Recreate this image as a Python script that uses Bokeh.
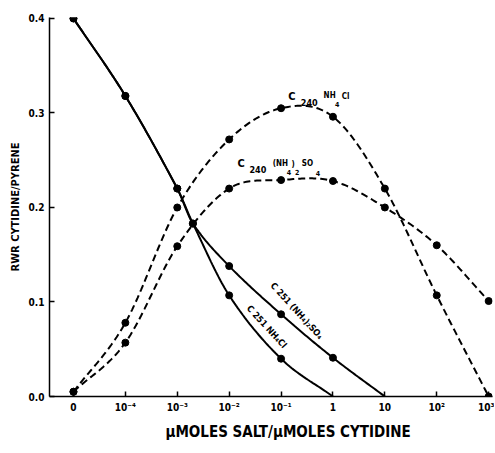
import numpy as np
from bokeh.plotting import figure
from bokeh.models import Range1d, FixedTicker, Title
from bokeh.core.properties import value
from bokeh.embed import file_html
from bokeh.resources import INLINE

# ---- data (µmoles salt / µmoles cytidine  vs  RWR cytidine/pyrene) ----
tick_values = [0, 1e-4, 1e-3, 1e-2, 1e-1, 1, 10, 100, 1000]
tick_labels = ["0", "10⁻⁴", "10⁻³", "10⁻²", "10⁻¹", "1", "10", "10²", "10³"]
y_ticks = [0.0, 0.1, 0.2, 0.3, 0.4]
y_tick_labels = ["0.0", "0.1", "0.2", "0.3", "0.4"]

c251_nh4cl_x = [0, 1e-4, 1e-3, 2e-3, 1e-2, 1e-1, 1]
c251_nh4cl_y = [0.400, 0.318, 0.220, 0.183, 0.107, 0.040, 0.000]

c251_so4_x = [0, 1e-4, 1e-3, 2e-3, 1e-2, 1e-1, 1, 10]
c251_so4_y = [0.400, 0.318, 0.220, 0.183, 0.138, 0.087, 0.041, 0.000]

c240_nh4cl_x = [0, 1e-4, 1e-3, 1e-2, 1e-1, 1, 10, 100, 1000]
c240_nh4cl_y = [0.005, 0.078, 0.200, 0.272, 0.305, 0.296, 0.220, 0.107, 0.000]

c240_so4_x = [0, 1e-4, 1e-3, 1e-2, 1e-1, 1, 10, 100, 1000]
c240_so4_y = [0.005, 0.057, 0.159, 0.220, 0.229, 0.228, 0.200, 0.160, 0.101]

FONT = "DejaVu Sans Condensed"


def pos(v):
    """Axis position: '0' at 0, then one unit per decade starting at 1e-4."""
    v = np.asarray(v, dtype=float)
    out = np.zeros_like(v)
    nz = v > 0
    out[nz] = np.log10(v[nz]) + 5
    return out


def smooth(xs, ys, n=30):
    """Cubic Hermite curve through the points (Catmull-Rom tangents)."""
    x = np.asarray(xs, float)
    y = np.asarray(ys, float)
    m = np.zeros_like(y)
    m[0] = (y[1] - y[0]) / (x[1] - x[0])
    m[-1] = (y[-1] - y[-2]) / (x[-1] - x[-2])
    for i in range(1, len(x) - 1):
        m[i] = (y[i + 1] - y[i - 1]) / (x[i + 1] - x[i - 1])
    px, py = [], []
    for i in range(len(x) - 1):
        h = x[i + 1] - x[i]
        t = np.linspace(0, 1, n, endpoint=(i == len(x) - 2))
        h00 = 2 * t**3 - 3 * t**2 + 1
        h10 = t**3 - 2 * t**2 + t
        h01 = -2 * t**3 + 3 * t**2
        h11 = t**3 - t**2
        px.extend(x[i] + t * h)
        py.extend(h00 * y[i] + h10 * h * m[i] + h01 * y[i + 1] + h11 * h * m[i + 1])
    return px, py


p = figure(width=494, height=445, output_backend="svg", toolbar_location=None,
           x_range=Range1d(-0.462, 8.074), y_range=Range1d(0.0, 0.401),
           min_border_left=49, min_border_right=2, min_border_top=17,
           min_border_bottom=47)
p.outline_line_color = None
p.grid.visible = False
p.background_fill_color = "white"

# axes
tick_pos = list(pos(tick_values))
p.xaxis.ticker = FixedTicker(ticks=tick_pos)
p.xaxis.major_label_overrides = {float(t): l for t, l in zip(tick_pos, tick_labels)}
p.yaxis.ticker = FixedTicker(ticks=y_ticks)
p.yaxis.major_label_overrides = {t: l for t, l in zip(y_ticks, y_tick_labels)}
for ax in (p.xaxis[0], p.yaxis[0]):
    ax.axis_line_width = 1.5
    ax.axis_line_color = "black"
    ax.major_tick_in = 5
    ax.major_tick_out = 0
    ax.major_tick_line_width = 1.5
    ax.minor_tick_line_color = None
    ax.major_label_text_font = FONT
    ax.major_label_text_font_style = "bold"
    ax.major_label_text_font_size = "10px"
    ax.major_label_text_color = "black"
    ax.major_label_standoff = 5
p.yaxis.axis_label = "RWR CYTIDINE/PYRENE"
p.yaxis.axis_label_text_font = FONT
p.yaxis.axis_label_text_font_style = "bold"
p.yaxis.axis_label_text_font_size = "11px"
p.yaxis.axis_label_text_color = "black"
p.yaxis.axis_label_standoff = 4

p.add_layout(Title(text="μMOLES SALT/μMOLES CYTIDINE", align="left", offset=116,
                   text_font=FONT, text_font_style="bold", text_font_size="15px",
                   text_color="black"), "below")

# curves
for xs, ys, dash in [(c251_nh4cl_x, c251_nh4cl_y, "solid"),
                     (c251_so4_x, c251_so4_y, "solid"),
                     (c240_nh4cl_x, c240_nh4cl_y, "7 4"),
                     (c240_so4_x, c240_so4_y, "7 4")]:
    sx, sy = smooth(pos(xs), ys)
    p.line(sx, sy, line_color="black", line_width=2, line_dash=dash)

# measured points
p.scatter(pos(c251_nh4cl_x[:-1]), c251_nh4cl_y[:-1], size=7, color="black")
p.scatter(pos(c251_so4_x[:-1]), c251_so4_y[:-1], size=7, color="black")
p.scatter(pos(c240_nh4cl_x), c240_nh4cl_y, size=7, color="black")
p.scatter(pos(c240_so4_x), c240_so4_y, size=7, color="black")


# curve labels
def txt(x, y, s, size, angle=0.0):
    p.text(x=[x], y=[y], text=[s], text_font=value(FONT), text_font_style="bold",
           text_font_size=value(f"{size}px"), text_color="black",
           text_align="left", text_baseline="middle", angle=angle)


# C 240 NH4Cl
txt(4.14, 0.317, "C", 11)
txt(4.38, 0.311, "240", 9)
txt(4.82, 0.318, "NH", 8)
txt(5.04, 0.309, "4", 7)
txt(5.17, 0.317, "Cl", 8)
# C 240 (NH4)2SO4
txt(3.16, 0.246, "C", 11)
txt(3.39, 0.240, "240", 9)
txt(3.84, 0.247, "(NH", 8)
txt(4.11, 0.238, "4", 7)
txt(4.20, 0.245, ")", 8)
txt(4.27, 0.238, "2", 7)
txt(4.40, 0.246, "SO", 8)
txt(4.67, 0.237, "4", 7)
# rotated labels along the solid curves
txt(3.83, 0.119, "C 251 (NH₄)₂SO₄", 9, angle=-0.83)
txt(3.37, 0.095, "C 251 NH₄Cl", 9, angle=-0.83)

open("out.html", "w").write(file_html(p, INLINE))
